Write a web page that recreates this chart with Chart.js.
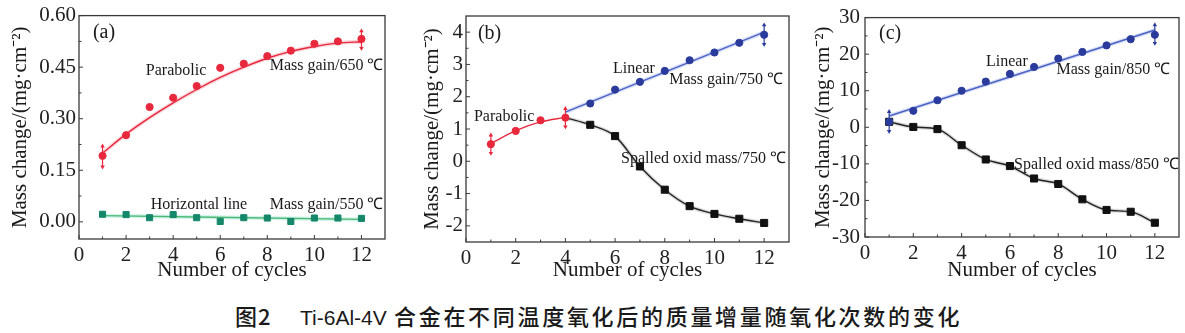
<!DOCTYPE html>
<html><head><meta charset="utf-8">
<script src="https://cdn.jsdelivr.net/npm/chart.js@4/dist/chart.umd.min.js"></script>
<style>
html,body{margin:0;padding:0;background:#fff;}
body{width:1185px;height:333px;overflow:hidden;position:relative;}
.p{position:absolute;top:0;height:290px;}
.cap{position:absolute;white-space:nowrap;color:#1a1a1a;top:303px;height:24px;}
</style></head>
<body>
<div class="p" style="left:0;width:395px"><canvas id="ca" width="395" height="290"></canvas></div>
<div class="p" style="left:395px;width:400px"><canvas id="cb" width="400" height="290"></canvas></div>
<div class="p" style="left:790px;width:395px"><canvas id="cc" width="395" height="290"></canvas></div>
<div class="cap" style="left:235px;font:500 22px/24px 'Noto Sans CJK SC';letter-spacing:1px">图2</div>
<div class="cap" style="left:300px;top:306px;font:21px/24px 'Liberation Sans'">Ti-6Al-4V</div>
<div class="cap" style="left:394px;font:500 22px/24px 'Noto Sans CJK SC';letter-spacing:2.7px">合金在不同温度氧化后的质量增量随氧化次数的变化</div>
<script>
// ---------- data ----------
const cycles = [1,2,3,4,5,6,7,8,9,10,11,12];
const xTicks = [0,2,4,6,8,10,12];
const yTicksA = [0,0.15,0.30,0.45,0.60];
const yTicksB = [-2,-1,0,1,2,3,4];
const yTicksC = [-30,-20,-10,0,10,20,30];

// (a) 650 C and 550 C
const gain650 = [0.192,0.252,0.334,0.361,0.395,0.448,0.460,0.482,0.498,0.518,0.525,0.532];
const fit650  = [0.200,0.255,0.303,0.346,0.385,0.420,0.450,0.476,0.496,0.510,0.520,0.524];
const gain550 = [0.022,0.021,0.012,0.021,0.012,0.001,0.012,0.011,0.001,0.011,0.011,0.010];
const fit550X = [1,12];
const fit550  = [0.018,0.007];
const errAX = [1,12], errAY = [0.190,0.530], errAE = [0.030,0.025];

// (b) 750 C
const paraX750 = [1,2,3,4];
const gain750Para = [0.53,0.94,1.27,1.35];
const fit750Para  = [0.55,0.95,1.22,1.36];
const linX750 = [5,6,7,8,9,10,11,12];
const gain750Lin = [1.79,2.22,2.46,2.80,3.13,3.37,3.67,3.92];
const fit750LinX = [4,12];
const fit750Lin  = [1.52,4.00];
const spallX750 = [4,5,6,7,8,9,10,11,12];
const spall750  = [1.35,1.13,0.78,-0.16,-0.88,-1.39,-1.63,-1.78,-1.91];
const errBX = [1,4,12], errBY = [0.53,1.35,3.92], errBE = [0.28,0.28,0.30];
const errBColor = ['#e8283c','#e8283c','#2a3b9c'];

// (c) 850 C
const gain850 = [1.5,4.5,7.4,10.0,12.5,14.6,16.5,18.8,20.6,22.4,24.1,25.3];
const fit850X = [1,12];
const fit850  = [3.1,26.6];
const spall850 = [1.5,0.1,-0.5,-4.9,-8.8,-10.6,-14.0,-15.5,-19.7,-22.6,-23.1,-26.1];
const errCX = [1,12], errCY = [1.6,25.5], errCE = [2.7,2.5];

// ---------- helpers ----------
const pts = (xs, ys) => xs.map((x, i) => ({x, y: ys[i]}));
const SERIF = "'Liberation Serif', 'Times New Roman', serif";
const RED = '#e8283c', GREEN = '#15876a', GREENL = '#4cb872', BLUE = '#2a3b9c', BLUEL = '#4b63c4', BLACK = '#111';

function markers(xs, ys, color, style, r) {
  return {data: pts(xs, ys), showLine: false, pointStyle: style, pointRadius: r,
    pointBackgroundColor: color, pointBorderColor: color, pointBorderWidth: 1};
}
function line(xs, ys, color, w, tension) {
  return {data: pts(xs, ys), showLine: true, borderColor: color, borderWidth: w,
    pointRadius: 0, tension: tension || 0, cubicInterpolationMode: 'monotone'};
}
function halo(xs, ys, color, tension) {
  return {data: pts(xs, ys), showLine: true, borderColor: color, borderWidth: 4,
    pointRadius: 0, tension: tension || 0, cubicInterpolationMode: 'monotone'};
}
function errBars(xs, ys, es, colors) {
  return xs.map((x, i) => {
    const c = Array.isArray(colors) ? colors[i] : colors;
    return {data: [{x, y: ys[i] - es[i]}, {x, y: ys[i] + es[i]}], showLine: true,
      borderColor: c, borderWidth: 1.2, pointStyle: 'triangle', pointRadius: 2.6,
      pointRotation: [180, 0], pointBackgroundColor: c, pointBorderColor: c, pointBorderWidth: 0};
  });
}

const framePlugin = {
  id: 'frame',
  afterDatasetsDraw(chart) {
    const {ctx, chartArea: a, scales} = chart;
    const o = chart.options.plugins.frame;
    ctx.save();
    ctx.strokeStyle = '#3a3a3a';
    ctx.lineWidth = 1.3;
    ctx.strokeRect(a.left, a.top, a.right - a.left, a.bottom - a.top);
    ctx.lineWidth = 1;
    ctx.beginPath();
    const xs = scales.x, ys = scales.y;
    for (let i = 0; i < o.xt.length; i++) {
      const v = o.xt[i];
      const px = xs.getPixelForValue(v);
      ctx.moveTo(px, a.bottom); ctx.lineTo(px, a.bottom - 4);
      if (i < o.xt.length - 1) {
        const m = xs.getPixelForValue((v + o.xt[i + 1]) / 2);
        ctx.moveTo(m, a.bottom); ctx.lineTo(m, a.bottom - 2.5);
      }
    }
    for (let i = 0; i < o.yt.length; i++) {
      const v = o.yt[i];
      const py = ys.getPixelForValue(v);
      ctx.moveTo(a.left, py); ctx.lineTo(a.left + 4, py);
      if (i < o.yt.length - 1) {
        const m = ys.getPixelForValue((v + o.yt[i + 1]) / 2);
        ctx.moveTo(a.left, m); ctx.lineTo(a.left + 2.5, m);
      }
    }
    ctx.stroke();
    // annotations
    ctx.fillStyle = '#1a1a1a';
    ctx.textBaseline = 'middle';
    ctx.textAlign = 'left';
    for (const t of o.notes) {
      ctx.font = (t.size || 16) + 'px ' + SERIF;
      ctx.fillText(t.text, xs.getPixelForValue(t.x), ys.getPixelForValue(t.y));
    }
    ctx.restore();
  }
};

function makeChart(id, p) {
  const tickFont = {family: SERIF, size: 21};
  return new Chart(document.getElementById(id), {
    type: 'scatter',
    data: {datasets: p.datasets},
    options: {
      responsive: false, animation: false, devicePixelRatio: 1,
      layout: {padding: {top: p.top, right: p.right, left: 0, bottom: 0}},
      plugins: {legend: {display: false}, tooltip: {enabled: false},
        frame: {xt: xTicks, yt: p.yTicks, notes: p.notes}},
      scales: {
        x: {type: 'linear', min: 0, max: 13,
          afterBuildTicks: s => { s.ticks = xTicks.map(v => ({value: v})); },
          afterFit: s => { s.height = p.xh; },
          grid: {display: false, drawTicks: false}, border: {display: false},
          ticks: {font: tickFont, color: '#222', padding: 4, maxRotation: 0, autoSkip: false},
          title: {display: true, text: 'Number of cycles', color: '#1a1a1a',
            font: {family: SERIF, size: 21}, padding: {top: 0, bottom: 7.4}}},
        y: {type: 'linear', min: p.ymin, max: p.ymax,
          afterBuildTicks: s => { s.ticks = p.yTicks.map(v => ({value: v})); },
          afterFit: s => { s.width = p.yw; },
          grid: {display: false, drawTicks: false}, border: {display: false},
          ticks: {font: tickFont, color: '#222', padding: p.ypad, autoSkip: false, callback: p.fmt},
          title: {display: true, text: 'Mass change/(mg·cm⁻²)', color: '#1a1a1a',
            font: {family: SERIF, size: 21}, padding: {top: p.ytitle, bottom: 0}}}
      }
    },
    plugins: [framePlugin]
  });
}

// (a)
makeChart('ca', {
  top: 14, right: 10, xh: 51, yw: 79, ypad: 3, ytitle: 7.4,
  ymin: -0.05, ymax: 0.60, yTicks: yTicksA, fmt: v => Number(v).toFixed(2),
  notes: [
    {text: '(a)', x: 0.59, y: 0.549, size: 20},
    {text: 'Parabolic', x: 2.84, y: 0.439},
    {text: 'Mass gain/650 ℃', x: 8.10, y: 0.453},
    {text: 'Horizontal line', x: 3.05, y: 0.049},
    {text: 'Mass gain/550 ℃', x: 8.10, y: 0.049}
  ],
  datasets: [
    ...errBars(errAX, errAY, errAE, RED),
    markers(cycles, gain650, RED, 'circle', 3.6),
    markers(cycles, gain550, GREEN, 'rect', 4.3),
    line(cycles, fit650, RED, 1.4, 0.4),
    halo(cycles, fit650, 'rgba(240,120,140,0.3)', 0.4),
    line(fit550X, fit550, GREENL, 1.4),
    halo(fit550X, fit550, 'rgba(120,220,200,0.35)')
  ]
});

// (b)
makeChart('cb', {
  top: 16, right: 4, xh: 48, yw: 71, ypad: 3, ytitle: 24.4,
  ymin: -2.5, ymax: 4.5, yTicks: yTicksB, fmt: v => String(v),
  notes: [
    {text: '(b)', x: 0.48, y: 3.96, size: 20},
    {text: 'Linear', x: 5.92, y: 2.88},
    {text: 'Mass gain/750 ℃', x: 8.18, y: 2.51},
    {text: 'Parabolic', x: 0.32, y: 1.39},
    {text: 'Spalled oxid mass/750 ℃', x: 6.24, y: 0.09}
  ],
  datasets: [
    ...errBars(errBX, errBY, errBE, errBColor),
    markers(paraX750, gain750Para, RED, 'circle', 3.6),
    markers(linX750, gain750Lin, BLUE, 'circle', 3.6),
    markers(spallX750.slice(1), spall750.slice(1), BLACK, 'rect', 5),
    line(paraX750, fit750Para, RED, 1.4, 0.4),
    line(fit750LinX, fit750Lin, BLUEL, 1.4),
    halo(fit750LinX, fit750Lin, 'rgba(130,150,230,0.3)'),
    line(spallX750, spall750, '#222', 1.4, 0.4),
    halo(spallX750, spall750, 'rgba(120,120,120,0.25)', 0.4)
  ]
});

// (c)
makeChart('cc', {
  top: 16, right: 5, xh: 53, yw: 75, ypad: 5, ytitle: 20.4,
  ymin: -30, ymax: 30, yTicks: yTicksC, fmt: v => String(v),
  notes: [
    {text: '(c)', x: 0.58, y: 25.7, size: 20},
    {text: 'Linear', x: 5.01, y: 17.8},
    {text: 'Mass gain/850 ℃', x: 7.93, y: 15.7},
    {text: 'Spalled oxid mass/850 ℃', x: 6.17, y: -10.3}
  ],
  datasets: [
    ...errBars(errCX, errCY, errCE, BLUE),
    markers(cycles, gain850, BLUE, 'circle', 3.6),
    markers(cycles, spall850, BLACK, 'rect', 5),
    line(fit850X, fit850, BLUEL, 1.4),
    halo(fit850X, fit850, 'rgba(130,150,230,0.3)'),
    line(cycles, spall850, '#222', 1.4),
    halo(cycles, spall850, 'rgba(120,120,120,0.25)')
  ]
});
</script>
</body></html>
